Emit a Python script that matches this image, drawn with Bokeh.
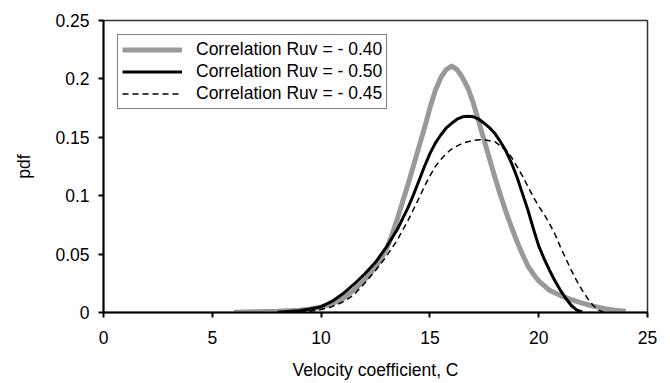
from bokeh.plotting import figure
from bokeh.models import Range1d, Legend, LegendItem, FixedTicker
from bokeh.embed import file_html
from bokeh.resources import INLINE

# Data
x_grey = [6, 7, 8, 9, 9.5, 10, 10.5, 11, 11.5, 12, 12.5, 12.75, 13, 13.25, 13.5, 13.75, 14,
          14.25, 14.5, 14.75, 15, 15.25, 15.5, 15.75, 16, 16.25, 16.5, 16.75, 17, 17.25, 17.5,
          17.75, 18, 18.25, 18.5, 18.75, 19, 19.25, 19.5, 19.75, 20, 20.5, 21, 21.5, 22, 22.5,
          23, 23.5, 24]
y_grey = [0.0003, 0.0006, 0.001, 0.002, 0.003, 0.0045, 0.0075, 0.012, 0.019, 0.028, 0.039,
          0.046, 0.054, 0.066, 0.080, 0.095, 0.110, 0.126, 0.142, 0.158, 0.175, 0.190, 0.201,
          0.208, 0.211, 0.208, 0.201, 0.192, 0.179, 0.163, 0.147, 0.131, 0.115, 0.100, 0.086,
          0.073, 0.061, 0.050, 0.040, 0.033, 0.027, 0.019, 0.0145, 0.011, 0.008, 0.0055,
          0.0035, 0.002, 0.001]

x_black = [8, 9, 9.5, 10, 10.5, 11, 11.5, 12, 12.5, 13, 13.5, 14, 14.25, 14.5, 14.75, 15,
           15.25, 15.5, 15.75, 16, 16.25, 16.5, 16.75, 17, 17.25, 17.5, 17.75, 18, 18.25, 18.5,
           18.75, 19, 19.25, 19.5, 19.75, 20, 20.25, 20.5, 20.75, 21, 21.25, 21.5, 21.75, 22]
y_black = [0.0003, 0.0015, 0.003, 0.005, 0.0095, 0.016, 0.024, 0.033, 0.043, 0.056, 0.071,
           0.090, 0.101, 0.113, 0.125, 0.136, 0.145, 0.152, 0.158, 0.162, 0.1655, 0.1675,
           0.168, 0.1675, 0.1655, 0.162, 0.158, 0.153, 0.146, 0.138, 0.128, 0.116, 0.102,
           0.088, 0.072, 0.057, 0.046, 0.036, 0.027, 0.019, 0.012, 0.006, 0.002, 0.0005]

x_dash = [9, 9.5, 10, 10.5, 11, 11.5, 12, 12.5, 13, 13.5, 14, 14.5, 14.75, 15, 15.25, 15.5,
          15.75, 16, 16.5, 17, 17.5, 18, 18.5, 18.75, 19, 19.25, 19.5, 19.75, 20, 20.25, 20.5,
          20.75, 21, 21.25, 21.5, 21.75, 22, 22.25, 22.5, 22.75, 23]
y_dash = [0.0003, 0.001, 0.0025, 0.005, 0.009, 0.015, 0.025, 0.036, 0.048, 0.062, 0.079,
          0.098, 0.108, 0.117, 0.125, 0.131, 0.136, 0.140, 0.145, 0.1475, 0.148, 0.146, 0.139,
          0.133, 0.125, 0.117, 0.108, 0.099, 0.091, 0.084, 0.076, 0.067, 0.056, 0.046, 0.036,
          0.027, 0.019, 0.012, 0.006, 0.002, 0.0005]

series_labels = ["Correlation Ruv = - 0.40", "Correlation Ruv = - 0.50", "Correlation Ruv = - 0.45"]
x_ticks = [0, 5, 10, 15, 20, 25]
y_ticks = [0, 0.05, 0.1, 0.15, 0.2, 0.25]
y_tick_labels = ["0", "0.05", "0.1", "0.15", "0.2", "0.25"]

FONT = "Liberation Sans"
FS = "17.5px"

p = figure(frame_width=544, frame_height=292, output_backend="svg", toolbar_location=None,
           x_range=Range1d(0, 25), y_range=Range1d(0, 0.25),
           min_border_left=103, min_border_right=23, min_border_top=20, min_border_bottom=71)
p.background_fill_color = "white"
p.border_fill_color = "white"
p.outline_line_color = "#333333"
p.outline_line_width = 1.5
p.xgrid.visible = False
p.ygrid.visible = False

r1 = p.line(x_grey, y_grey, line_color="#999999", line_width=5, line_join="round")
r2 = p.line(x_black, y_black, line_color="black", line_width=3, line_join="round")
r3 = p.line(x_dash, y_dash, line_color="black", line_width=1.5, line_dash="6 4")

for ax in (p.xaxis[0], p.yaxis[0]):
    ax.axis_line_width = 2
    ax.axis_line_color = "black"
    ax.major_tick_line_width = 2
    ax.major_tick_in = 0
    ax.major_tick_out = 5
    ax.minor_tick_line_color = None
    ax.major_label_text_font = FONT
    ax.major_label_text_font_size = FS
    ax.major_label_text_color = "black"
    ax.axis_label_text_font = FONT
    ax.axis_label_text_font_size = FS
    ax.axis_label_text_font_style = "normal"
    ax.axis_label_text_color = "black"

p.xaxis[0].ticker = FixedTicker(ticks=x_ticks)
p.yaxis[0].ticker = FixedTicker(ticks=y_ticks)
p.yaxis[0].major_label_overrides = {t: l for t, l in zip(y_ticks, y_tick_labels)}
p.xaxis[0].axis_label = "Velocity coefficient, C"
p.yaxis[0].axis_label = "pdf"
p.xaxis[0].major_label_standoff = 13
p.xaxis[0].axis_label_standoff = 13
p.yaxis[0].major_label_standoff = 9
p.yaxis[0].axis_label_standoff = 18

legend = Legend(items=[LegendItem(label=series_labels[0], renderers=[r1]),
                       LegendItem(label=series_labels[1], renderers=[r2]),
                       LegendItem(label=series_labels[2], renderers=[r3])],
                location="top_left", margin=14, padding=4, spacing=1,
                glyph_width=60, glyph_height=19, label_height=19, label_standoff=14,
                label_text_font=FONT, label_text_font_size=FS, label_text_color="black",
                border_line_color="black", border_line_width=1.5,
                background_fill_color="white", background_fill_alpha=1.0)
p.add_layout(legend)

open("out.html", "w").write(file_html(p, INLINE))
